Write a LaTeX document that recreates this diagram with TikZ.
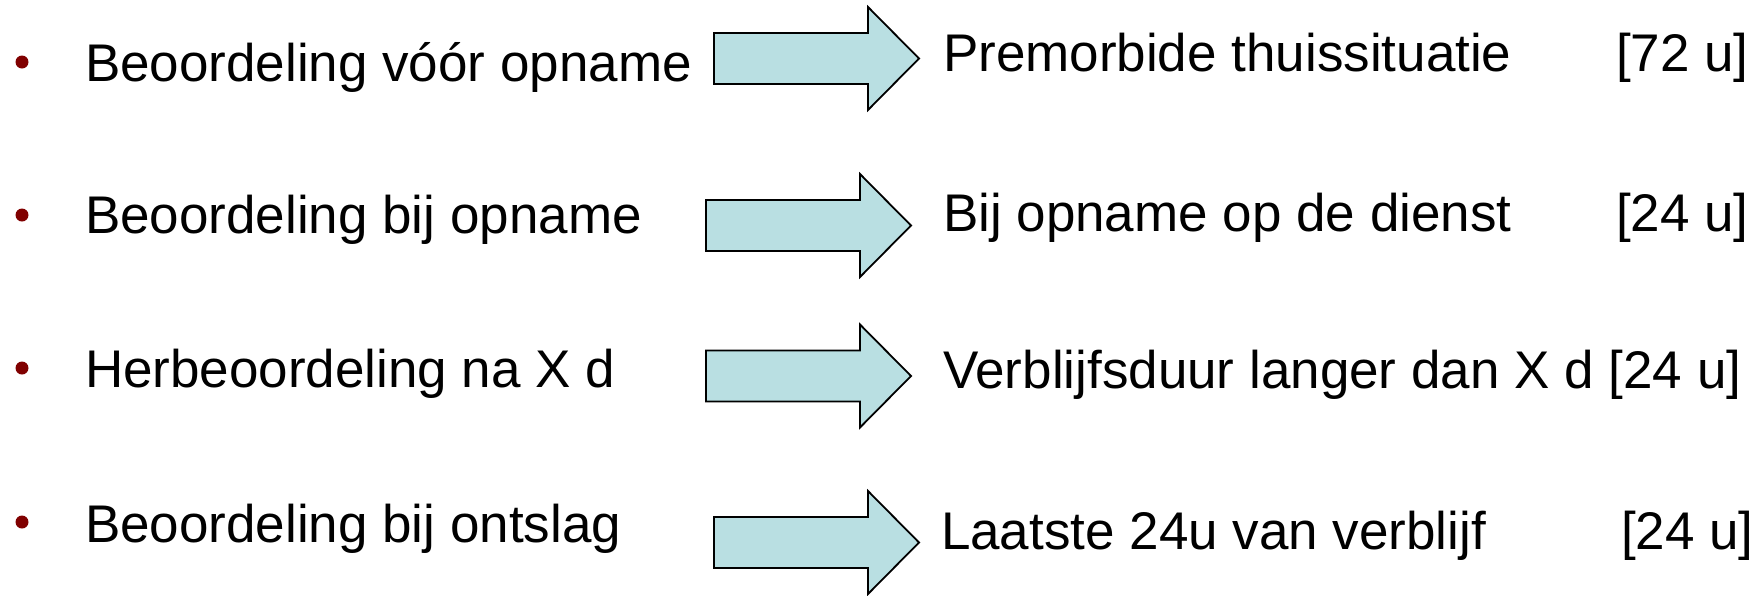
\documentclass[tikz,border=0pt]{standalone}
\usepackage{fontspec}
\setmainfont{Liberation Sans}
\definecolor{arrowfill}{RGB}{185,223,226}
\definecolor{bulletred}{RGB}{128,0,0}
\newcommand{\barrow}[3]{%
  \draw[blockarrow] (#1,#2-25.5) coordinate (#3) -- (#1+154,#2-25.5) -- (#1+154,#2-51.5) -- (#1+205,#2) -- (#1+154,#2+51.5) -- (#1+154,#2+25.5) -- (#1,#2+25.5) -- cycle;}
\begin{document}
\begin{tikzpicture}[x=1pt,y=-1pt,
  txt/.style={anchor=base west,inner sep=0pt,outer sep=0pt,font=\fontsize{53}{60}\selectfont},
  bulletdot/.style={circle,fill=bulletred,inner sep=0pt,minimum size=13pt},
  blockarrow/.style={draw=black,fill=arrowfill,line width=1.8pt,line join=miter}]
\useasboundingbox (0,0) rectangle (1760,595);
% bullets
\node[bulletdot] (b1) at (22,62) {};
\node[bulletdot] (b2) at (22,215) {};
\node[bulletdot] (b3) at (22,368) {};
\node[bulletdot] (b4) at (22,522) {};
% left texts
\node[txt] (l1) at (85,81) {Beoordeling vóór opname};
\node[txt] (l2) at (85,233) {Beoordeling bij opname};
\node[txt] (l3) at (85,387) {Herbeoordeling na X d};
\node[txt] (l4) at (85,542) {Beoordeling bij ontslag};
% arrows
\barrow{714}{58.5}{a1}
\barrow{706}{225.5}{a2}
\barrow{706}{376}{a3}
\barrow{714}{542.5}{a4}
% right texts
\node[txt] (r1) at (943,71) {Premorbide thuissituatie};
\node[txt] (r2) at (943,231) {Bij opname op de dienst};
\node[txt] (r3) at (943,388) {Verblijfsduur langer dan X d [24 u]};
\node[txt] (r4) at (941,549) {Laatste 24u van verblijf};
\node[txt] (t1) at (1616,71) {[72 u]};
\node[txt] (t2) at (1616,231) {[24 u]};
\node[txt] (t4) at (1621,549) {[24 u]};
\end{tikzpicture}
\end{document}
